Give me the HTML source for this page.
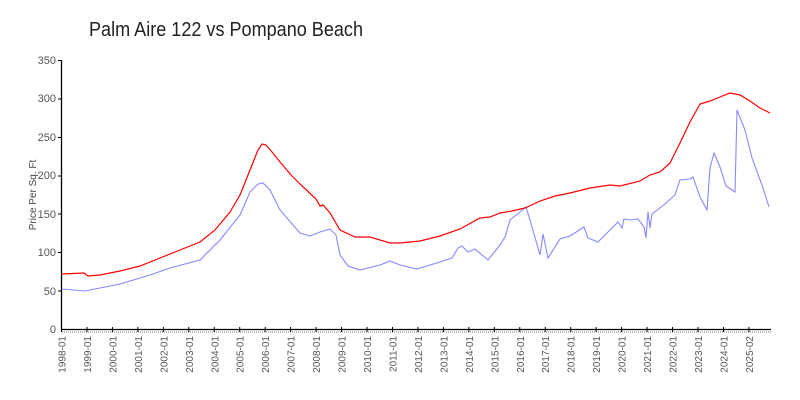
<!DOCTYPE html>
<html><head><meta charset="utf-8"><style>
html,body{margin:0;padding:0;background:#fff;}
svg{display:block;font-family:"Liberation Sans",sans-serif;}
</style></head><body>
<svg width="800" height="400" viewBox="0 0 800 400">
<rect width="800" height="400" fill="#fff"/>
<text x="89" y="36" font-size="20" fill="#222" textLength="274" lengthAdjust="spacingAndGlyphs" font-weight="300">Palm Aire 122 vs Pompano Beach</text>
<text transform="translate(36,195) rotate(-90)" font-size="10" fill="#444" text-anchor="middle">Price Per Sq. Ft</text>
<g font-size="11" fill="#555" text-anchor="end">
<text x="56" y="333">0</text><text x="56" y="295">50</text><text x="56" y="256">100</text>
<text x="56" y="218">150</text><text x="56" y="179">200</text><text x="56" y="141">250</text>
<text x="56" y="102">300</text><text x="56" y="64">350</text>
</g>
<line x1="61.5" y1="60" x2="61.5" y2="329.5" stroke="#000" stroke-width="1.3"/>
<line x1="61" y1="329.5" x2="771" y2="329.5" stroke="#000" stroke-width="1.3"/>
<line x1="62" y1="332" x2="771" y2="332" stroke="#bbb" stroke-width="2" stroke-dasharray="1,1"/>
<g stroke="#000" stroke-width="1">
<line x1="58" y1="60.5" x2="61" y2="60.5"/><line x1="58" y1="99" x2="61" y2="99"/><line x1="58" y1="137.5" x2="61" y2="137.5"/><line x1="58" y1="176" x2="61" y2="176"/><line x1="58" y1="214" x2="61" y2="214"/><line x1="58" y1="252.5" x2="61" y2="252.5"/><line x1="58" y1="291" x2="61" y2="291"/>
</g>
<g id="xt" stroke="#000" stroke-width="1"></g>
<g id="xl" font-size="10" fill="#555"></g>
<polyline fill="none" stroke="#8888ff" stroke-width="1.1" points="62,289 85,291 120,284 150,275 170,268 200,260 220,240 240,215 250,192 258,184 263,183 270,190 280,210 300,233 310,236 320,232 330,229 336,235 340,255 348,266 360,270 380,265 390,261 400,265 417,269 440,262 452,258 458,248 462,246 468,252 475,249 488,260 500,245 505,237 510,220 520,212 526,207 530,220 540,255 543,234 548,258 560,239 570,236 584,227 588,238 598,242 610,230 618,222 622,228 624,219 630,220 638,219 644,227 646,238 648,212 650,228 652,214 665,204 675,195 680,180 690,179 693,177 700,197 707,210 710,168 714,153 720,167 726,186 735,192 737,110 745,130 752,158 762,185 769,207"/>
<polyline fill="none" stroke="#ff0000" stroke-width="1.2" points="62,274 84,273 88,276 100,275 120,271 140,266 160,258 180,250 200,242 215,230 230,212 240,195 250,170 258,150 262,144 266,145 272,152 280,162 291,175 300,184 316,199 320,206 323,205 330,213 340,230 355,237 370,237 390,243 400,243 420,241 440,236 460,229 480,218 490,217 500,213 512,211 525,208 540,201 555,196 570,193 590,188 610,185 620,186 640,181 650,175 660,172 670,163 680,143 690,122 700,104 710,101 720,97 730,93 740,95 750,101 760,108 770,113"/>
<script>
var t=document.getElementById('xt'),l=document.getElementById('xl'),ns='http://www.w3.org/2000/svg';
for(var i=0;i<28;i++){var x=61.5+25.46*i;var yr=1998+i;var lab=yr+(i==27?'-02':'-01');
var ln=document.createElementNS(ns,'line');ln.setAttribute('x1',x);ln.setAttribute('x2',x);ln.setAttribute('y1',327);ln.setAttribute('y2',332);t.appendChild(ln);
var tx=document.createElementNS(ns,'text');tx.setAttribute('transform','translate('+(x+4)+',336) rotate(-90)');tx.setAttribute('text-anchor','end');tx.textContent=lab;l.appendChild(tx);}
</script>
</svg>
</body></html>
